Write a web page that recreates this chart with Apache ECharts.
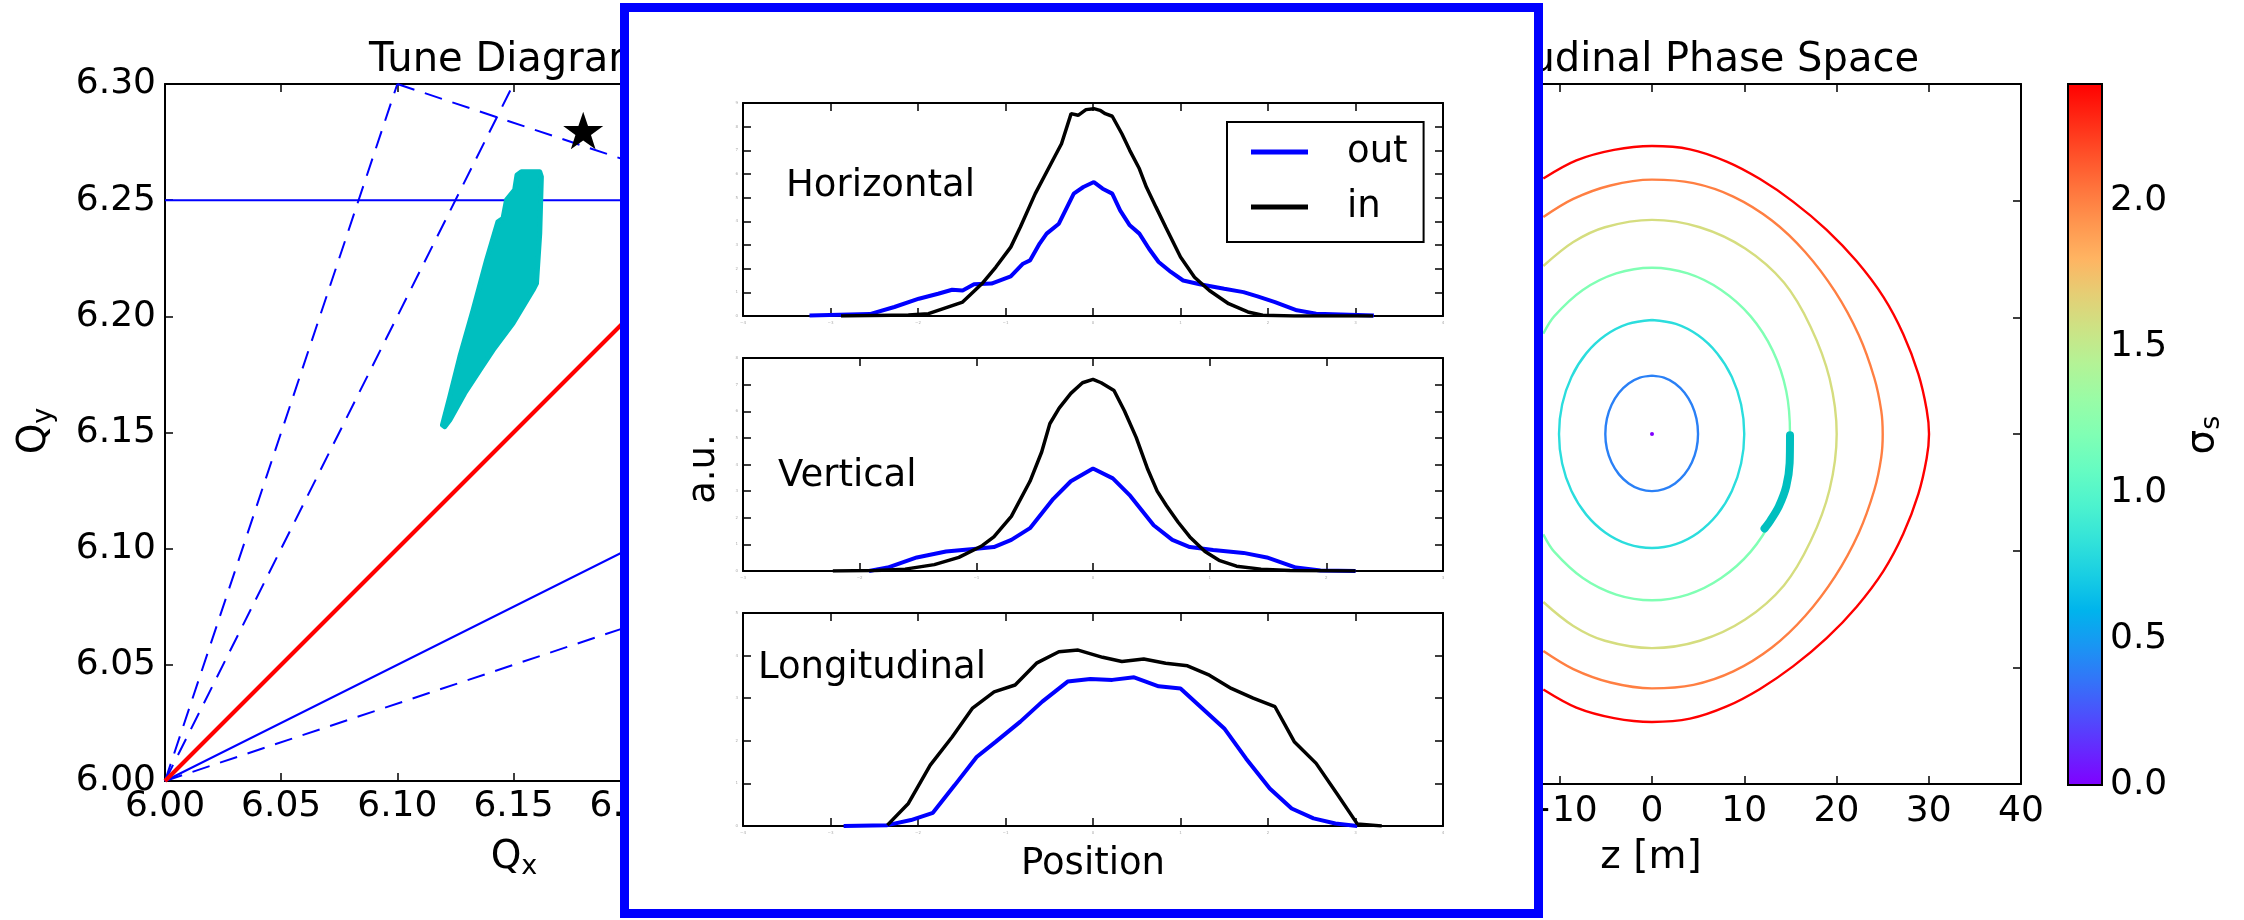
<!DOCTYPE html>
<html>
<head>
<meta charset="utf-8">
<script src="https://cdn.jsdelivr.net/npm/echarts@6/dist/echarts.min.js"></script>
<style>
html,body{margin:0;padding:0;background:#ffffff;}
#chart{width:2244px;height:920px;}
</style>
</head>
<body>
<div id="chart"></div>
<script>
// ================= DATA =================
// --- Tune diagram (Qx, Qy) ---
const tuneMin = 6.00, tuneMax = 6.30, tuneStep = 0.05;
const resonanceSolid = [
  [[6.00, 6.25], [6.30, 6.25]],
  [[6.00, 6.00], [6.30, 6.15]]
];
const resonanceDashed = [
  [[6.00, 6.00], [6.30, 6.10]],
  [[6.00, 6.00], [6.10, 6.30]],
  [[6.00, 6.00], [6.15, 6.30]],
  [[6.10, 6.30], [6.30, 6.2333]]
];
const couplingLine = [[6.00, 6.00], [6.30, 6.30]];
const workingPoint = [[6.18, 6.28]];
const footprint = [
  [6.1194, 6.1532], [6.1226, 6.1654], [6.1269, 6.1826], [6.1326, 6.2027], [6.1384, 6.2242],
  [6.1433, 6.2407], [6.1455, 6.2422], [6.1470, 6.2501], [6.1505, 6.2544], [6.1515, 6.2608],
  [6.1534, 6.2622], [6.1613, 6.2622], [6.1620, 6.2601], [6.1613, 6.2357], [6.1599, 6.2142],
  [6.1584, 6.2113], [6.1498, 6.1970], [6.1412, 6.1855], [6.1355, 6.1769], [6.1290, 6.1669],
  [6.1226, 6.1554], [6.1204, 6.1525]
];

// --- Longitudinal phase space (z [m], delta) ---
const zMin = -40, zMax = 40, zStep = 10;
const dMin = -3, dMax = 3, dStep = 1;
const sigmaLevels = [0.4, 0.8, 1.2, 1.6, 2.0, 2.4];
const ringS04 = [[0,0.50],[1.29,0.483],[2.5,0.433],[3.53,0.353],[4.32,0.25],[4.82,0.13],[4.99,0],
  [4.82,-0.127],[4.32,-0.245],[3.53,-0.346],[2.5,-0.424],[1.29,-0.473],[0,-0.49],[-1.31,-0.473],
  [-2.53,-0.424],[-3.58,-0.346],[-4.38,-0.245],[-4.89,-0.127],[-5.06,0],[-4.89,0.13],[-4.38,0.25],
  [-3.58,0.353],[-2.53,0.433],[-1.31,0.483],[0,0.50]];
const ringS08 = [[0,0.977],[2.59,0.944],[5.0,0.846],[7.07,0.691],[8.66,0.489],[9.66,0.253],[10.0,0],
  [9.66,-0.253],[8.66,-0.489],[7.07,-0.691],[5.0,-0.846],[2.59,-0.944],[0,-0.977],[-2.61,-0.944],
  [-5.04,-0.846],[-7.13,-0.691],[-8.73,-0.489],[-9.74,-0.253],[-10.08,0],[-9.74,0.253],[-8.73,0.489],
  [-7.13,0.691],[-5.04,0.846],[-2.61,0.944],[0,0.977]];
const ringS12 = [[-11.78,0.86],[-10.61,1.008],[-7.5,1.234],[-3.88,1.376],[0,1.425],[3.88,1.376],[7.5,1.234],
  [10.7,1.008],[13.1,0.7125],[14.55,0.369],[14.96,0],[14.55,-0.369],[13.1,-0.7125],[10.7,-1.008],
  [7.5,-1.234],[3.88,-1.376],[0,-1.425],[-3.88,-1.376],[-7.5,-1.234],[-10.61,-1.008],[-11.78,-0.86]];
const ringS16 = [[-11.78,1.44],[-8.53,1.645],[-5.1,1.772],[0,1.835],[5.18,1.772],[10.1,1.59],[14.3,1.298],
  [17.2,0.918],[19.25,0.475],[20.02,0],[19.25,-0.475],[17.2,-0.918],[14.3,-1.298],[10.1,-1.59],
  [5.18,-1.772],[0,-1.835],[-5.1,-1.772],[-8.53,-1.645],[-11.78,-1.44]];
const ringS20 = [[-11.78,1.86],[-8.53,2.015],[-4.5,2.13],[0,2.18],[4.5,2.15],[8.81,2.035],[13.0,1.83],
  [16.6,1.56],[19.85,1.22],[22.4,0.85],[24.1,0.48],[24.85,0.2],[25.01,0],[24.85,-0.2],[24.1,-0.48],
  [22.4,-0.85],[19.85,-1.22],[16.6,-1.56],[13.0,-1.83],[8.81,-2.035],[4.5,-2.15],[0,-2.18],[-4.5,-2.13],
  [-8.53,-2.015],[-11.78,-1.86]];
const ringS24 = [[-11.78,2.19],[-8.2,2.345],[-4.12,2.435],[0,2.468],[4.12,2.44],[8.09,2.335],[11.71,2.185],
  [15.32,1.99],[18.93,1.75],[22.19,1.48],[25.08,1.175],[27.24,0.855],[28.87,0.515],[29.77,0.21],[30.03,0],
  [29.77,-0.21],[28.87,-0.515],[27.24,-0.855],[25.08,-1.175],[22.19,-1.48],[18.93,-1.75],[15.32,-1.99],
  [11.71,-2.185],[8.09,-2.335],[4.12,-2.44],[0,-2.468],[-4.12,-2.435],[-8.2,-2.345],[-11.78,-2.19]];
const bunchCentre = [[0, 0]];
const bunchArc = [[14.96,-0.01],[14.92,-0.25],[14.55,-0.45],[13.75,-0.62],[12.85,-0.74],[12.2,-0.81]];

// --- Colour bar (sigma_s) ---
const cbarMin = 0, cbarMax = 2.4, cbarStep = 0.5;

// --- Inset profiles (Position, a.u.) ---
const hOut = [[-3.24,0.02],[-2.55,0.08],[-2.27,0.38],[-1.99,0.73],[-1.77,0.94],[-1.61,1.11],[-1.49,1.08],
  [-1.36,1.34],[-1.16,1.37],[-0.94,1.67],[-0.80,2.21],[-0.72,2.35],[-0.61,3.06],[-0.53,3.48],[-0.39,3.90],
  [-0.22,5.17],[-0.11,5.45],[0.01,5.66],[0.11,5.38],[0.22,5.17],[0.31,4.46],[0.42,3.83],[0.53,3.48],
  [0.64,2.84],[0.75,2.28],[0.89,1.86],[1.03,1.50],[1.22,1.34],[1.50,1.15],[1.72,1.01],[1.88,0.83],
  [2.08,0.59],[2.33,0.24],[2.55,0.10],[3.21,0.02]];
const hIn = [[-2.88,0],[-2.11,0.04],[-1.88,0.10],[-1.49,0.59],[-1.27,1.36],[-1.11,2.07],[-0.94,2.91],
  [-0.83,3.76],[-0.66,5.17],[-0.44,6.72],[-0.36,7.28],[-0.25,8.55],[-0.17,8.48],[-0.08,8.72],[0.01,8.76],
  [0.08,8.69],[0.14,8.55],[0.22,8.44],[0.33,7.70],[0.42,7.00],[0.53,6.22],[0.61,5.45],[0.72,4.60],
  [0.83,3.76],[1.00,2.49],[1.16,1.64],[1.33,1.08],[1.55,0.52],[1.77,0.17],[1.94,0.03],[2.30,0],[3.20,0]];
const vOut = [[-1.92,0],[-1.76,0.13],[-1.51,0.51],[-1.26,0.73],[-1.00,0.84],[-0.85,0.90],[-0.70,1.17],
  [-0.54,1.61],[-0.34,2.71],[-0.19,3.37],[0,3.85],[0.17,3.48],[0.32,2.82],[0.52,1.72],[0.68,1.17],
  [0.83,0.90],[1.03,0.79],[1.29,0.68],[1.49,0.51],[1.74,0.13],[1.95,0.02],[2.25,0]];
const vIn = [[-2.23,0],[-1.86,0.02],[-1.61,0.07],[-1.36,0.24],[-1.15,0.51],[-0.95,0.95],[-0.85,1.28],
  [-0.70,2.05],[-0.54,3.37],[-0.44,4.47],[-0.37,5.53],[-0.29,6.12],[-0.19,6.67],[-0.09,7.07],[0,7.20],
  [0.07,7.07],[0.18,6.78],[0.27,6.01],[0.37,5.02],[0.47,3.81],[0.55,3.0],[0.63,2.45],[0.73,1.83],
  [0.83,1.28],[0.96,0.73],[1.08,0.40],[1.23,0.18],[1.44,0.07],[1.69,0.02],[2.25,0]];
const lOut = [[-2.85,0],[-2.35,0.02],[-2.08,0.14],[-1.83,0.31],[-1.58,0.96],[-1.33,1.62],[-1.11,1.98],
  [-0.83,2.45],[-0.58,2.92],[-0.29,3.39],[-0.03,3.45],[0.22,3.43],[0.47,3.49],[0.75,3.28],[1.00,3.23],
  [1.25,2.76],[1.50,2.29],[1.75,1.58],[2.02,0.88],[2.27,0.41],[2.52,0.18],[2.77,0.06],[3.02,0]];
const lIn = [[-2.35,0.02],[-2.11,0.53],[-1.86,1.43],[-1.61,2.09],[-1.38,2.76],[-1.13,3.15],[-0.89,3.31],
  [-0.64,3.83],[-0.39,4.09],[-0.17,4.13],[0.11,3.96],[0.33,3.86],[0.58,3.92],[0.83,3.82],[1.08,3.76],
  [1.33,3.54],[1.58,3.23],[1.83,3.00],[2.08,2.80],[2.30,1.98],[2.55,1.47],[2.80,0.72],[3.02,0.05],[3.30,0]];
const panelX = [[-4, 4], [-3, 3], [-4, 4]];
const panelY = [[0, 9], [0, 8], [0, 5]];
const panelNames = ['Horizontal', 'Vertical', 'Longitudinal'];

// ================= STYLE / HELPERS =================
const FONT = '"DejaVu Sans", "Liberation Sans", sans-serif';
const BLACK = '#000000';
const BLUE = '#0000ff';
const CYAN = '#00bfbf';
const MINUS = '\u2212';
function rainbow(t) {
  const r = Math.min(1, Math.abs(2 * t - 0.5));
  const g = Math.sin(Math.PI * t);
  const b = Math.cos(Math.PI * t / 2);
  return 'rgb(' + Math.round(r * 255) + ',' + Math.round(Math.max(0, g) * 255) + ',' + Math.round(Math.max(0, b) * 255) + ')';
}
function axisBase(extra) {
  return Object.assign({
    type: 'value',
    axisLine: { show: true, onZero: false, lineStyle: { color: BLACK, width: 2 } },
    axisTick: { show: true, inside: true, length: 8, lineStyle: { color: BLACK, width: 1.5 } },
    axisLabel: { show: false },
    splitLine: { show: false },
    z: 0
  }, extra);
}
const tickFont = { show: true, fontSize: 36, fontFamily: FONT, color: BLACK };
const tinyLabel = { show: true, fontSize: 4, color: '#aaaaaa', margin: 5, fontFamily: FONT };
const intLabel = v => (v < 0 ? MINUS : '') + String(Math.abs(Math.round(v)));

// ================= AXES =================
const xAxis = [
  axisBase({ gridIndex: 0, position: 'bottom', min: tuneMin, max: tuneMax, interval: tuneStep,
    axisLabel: Object.assign({}, tickFont, { margin: 8, formatter: v => v.toFixed(2) }) }),
  axisBase({ gridIndex: 0, position: 'top', min: tuneMin, max: tuneMax, interval: tuneStep }),
  axisBase({ gridIndex: 1, position: 'bottom', min: zMin, max: zMax, interval: zStep,
    axisLabel: Object.assign({}, tickFont, { margin: 10, formatter: intLabel }) }),
  axisBase({ gridIndex: 1, position: 'top', min: zMin, max: zMax, interval: zStep }),
  { type: 'value', gridIndex: 2, min: 0, max: 1, show: false }
];
const yAxis = [
  axisBase({ gridIndex: 0, position: 'left', min: tuneMin, max: tuneMax, interval: tuneStep,
    axisLabel: Object.assign({}, tickFont, { margin: 9, formatter: v => v.toFixed(2) }) }),
  axisBase({ gridIndex: 0, position: 'right', min: tuneMin, max: tuneMax, interval: tuneStep }),
  axisBase({ gridIndex: 1, position: 'left', min: dMin, max: dMax, interval: dStep }),
  axisBase({ gridIndex: 1, position: 'right', min: dMin, max: dMax, interval: dStep }),
  axisBase({ gridIndex: 2, position: 'right', min: cbarMin, max: cbarMax, interval: cbarStep,
    axisTick: { show: true, inside: true, length: 9, lineStyle: { color: BLACK, width: 1.5 } },
    axisLabel: Object.assign({}, tickFont, { margin: 8,
      formatter: v => (Math.abs(v / cbarStep - Math.round(v / cbarStep)) < 1e-6 ? v.toFixed(1) : '') }) })
];
for (let k = 0; k < 3; k++) {
  const g = 3 + k;
  xAxis.push(axisBase({ gridIndex: g, position: 'bottom', min: panelX[k][0], max: panelX[k][1], interval: 1, z: 60,
    axisLabel: Object.assign({}, tinyLabel, { formatter: intLabel }) }));
  xAxis.push(axisBase({ gridIndex: g, position: 'top', min: panelX[k][0], max: panelX[k][1], interval: 1, z: 60 }));
  yAxis.push(axisBase({ gridIndex: g, position: 'left', min: panelY[k][0], max: panelY[k][1], interval: 1, z: 60, axisLabel: tinyLabel }));
  yAxis.push(axisBase({ gridIndex: g, position: 'right', min: panelY[k][0], max: panelY[k][1], interval: 1, z: 60 }));
}

// ================= SERIES =================
const series = [];
resonanceSolid.forEach(d => series.push({ type: 'line', xAxisIndex: 0, yAxisIndex: 0, data: d, symbol: 'none',
  silent: true, lineStyle: { color: BLUE, width: 2 }, z: 2 }));
resonanceDashed.forEach(d => series.push({ type: 'line', xAxisIndex: 0, yAxisIndex: 0, data: d, symbol: 'none',
  silent: true, lineStyle: { color: BLUE, width: 2, type: [18, 11] }, z: 2 }));
series.push({ type: 'line', xAxisIndex: 0, yAxisIndex: 0, data: couplingLine, symbol: 'none', silent: true,
  lineStyle: { color: '#ff0000', width: 4 }, z: 3 });
series.push({ type: 'custom', xAxisIndex: 0, yAxisIndex: 0, data: [footprint[0]], silent: true, z: 4,
  renderItem: (params, api) => ({
    type: 'polygon',
    shape: { points: footprint.map(p => api.coord(p)) },
    style: { fill: CYAN, stroke: CYAN, lineWidth: 5, lineJoin: 'round' }
  }) });
series.push({ type: 'scatter', xAxisIndex: 0, yAxisIndex: 0, data: workingPoint, silent: true, z: 5,
  symbol: 'path://M50,0 L61.8,35.1 L98.9,35.1 L69,56.9 L80.2,91.9 L50,70.2 L19.8,91.9 L31,56.9 L1.1,35.1 L38.2,35.1 Z',
  symbolSize: 40, symbolKeepAspect: true, itemStyle: { color: BLACK, opacity: 1 } });

const rings = [ringS04, ringS08, ringS12, ringS16, ringS20, ringS24];
rings.forEach((pts, i) => series.push({ type: 'line', xAxisIndex: 2, yAxisIndex: 2, data: pts, symbol: 'none',
  smooth: 0.33, silent: true, lineStyle: { color: rainbow(sigmaLevels[i] / cbarMax), width: 2.4 }, z: 3 }));
series.push({ type: 'scatter', xAxisIndex: 2, yAxisIndex: 2, data: bunchCentre, symbolSize: 4, silent: true,
  itemStyle: { color: rainbow(0), opacity: 1 }, z: 4 });
series.push({ type: 'line', xAxisIndex: 2, yAxisIndex: 2, data: bunchArc, symbol: 'none', smooth: 0.3, silent: true,
  lineStyle: { color: CYAN, width: 8, cap: 'round', join: 'round' }, z: 5 });

const cbarStops = [];
for (let i = 0; i <= 20; i++) cbarStops.push({ offset: i / 20, color: rainbow(i / 20) });
series.push({ type: 'custom', xAxisIndex: 4, yAxisIndex: 4, data: [[0, cbarMin]], silent: true, z: 2,
  renderItem: (params, api) => {
    const a = api.coord([0, cbarMin]), b = api.coord([1, cbarMax]);
    return { type: 'rect', shape: { x: a[0], y: b[1], width: b[0] - a[0], height: a[1] - b[1] },
      style: { fill: new echarts.graphic.LinearGradient(0, 1, 0, 0, cbarStops), stroke: BLACK, lineWidth: 2 } };
  } });

const profiles = [[hOut, hIn], [vOut, vIn], [lOut, lIn]];
profiles.forEach((pair, k) => {
  series.push({ type: 'line', name: 'out', xAxisIndex: 5 + 2 * k, yAxisIndex: 5 + 2 * k, data: pair[0], symbol: 'none',
    silent: true, lineStyle: { color: BLUE, width: 4 }, itemStyle: { color: BLUE }, z: 61 });
  series.push({ type: 'line', name: 'in', xAxisIndex: 5 + 2 * k, yAxisIndex: 5 + 2 * k, data: pair[1], symbol: 'none',
    silent: true, lineStyle: { color: BLACK, width: 3.5 }, itemStyle: { color: BLACK }, z: 61 });
});

// ================= TEXT / DECORATION =================
function txt(text, x, y, size, align, extra) {
  return Object.assign({ type: 'text', x: x, y: y, z: 1,
    style: { text: text, font: size + 'px ' + FONT, fill: BLACK, align: align || 'left', verticalAlign: 'middle' } }, extra || {});
}
function subTxt(main, sub, x, y, size, rot) {
  return { type: 'text', x: x, y: y, z: 1, rotation: rot || 0,
    style: { text: '{a|' + main + '}{b|' + sub + '}', align: 'center', verticalAlign: 'middle', fill: BLACK,
      rich: { a: { fontSize: size, fontFamily: FONT, lineHeight: size + 6, fill: BLACK },
              b: { fontSize: Math.round(size * 0.7), fontFamily: FONT, lineHeight: 26, verticalAlign: 'bottom', fill: BLACK } } } };
}
const graphic = [
  txt('Tune Diagram', 369, 61, 40, 'left'),
  txt('Longitudinal Phase Space', 1919, 61, 40, 'right'),
  subTxt('Q', 'x', 514, 858, 39, 0),
  subTxt('Q', 'y', 35, 431, 39, Math.PI / 2),
  txt('z [m]', 1651, 858, 39, 'center'),
  subTxt('σ', 's', 2203, 435, 39, Math.PI / 2),
  { type: 'rect', z: 50, shape: { x: 624.5, y: 7.5, width: 914, height: 906 },
    style: { fill: '#ffffff', stroke: BLUE, lineWidth: 9 } },
  txt(panelNames[0], 786, 186, 37, 'left', { z: 100 }),
  txt(panelNames[1], 778, 476, 37, 'left', { z: 100 }),
  txt(panelNames[2], 758, 668, 37, 'left', { z: 100 }),
  txt('a.u.', 704, 469, 37, 'center', { z: 100, rotation: Math.PI / 2 }),
  txt('Position', 1093, 864, 37, 'center', { z: 100 })
];

const option = {
  animation: false,
  backgroundColor: '#ffffff',
  grid: [
    { left: 165, top: 84, width: 697, height: 697, outerBoundsMode: 'none' },
    { left: 1283, top: 84, width: 738, height: 700, outerBoundsMode: 'none' },
    { left: 2068, top: 84, width: 34, height: 701, outerBoundsMode: 'none' },
    { left: 743, top: 103, width: 700, height: 213, outerBoundsMode: 'none', z: 60 },
    { left: 743, top: 358, width: 700, height: 213, outerBoundsMode: 'none', z: 60 },
    { left: 743, top: 613, width: 700, height: 213, outerBoundsMode: 'none', z: 60 }
  ],
  legend: {
    show: true, orient: 'vertical', left: 1227, top: 122, z: 70, selectedMode: false,
    data: [{ name: 'out', icon: 'rect' }, { name: 'in', icon: 'rect' }],
    itemWidth: 57, itemHeight: 5, itemGap: 13,
    padding: [9, 16, 14, 24],
    borderColor: BLACK, borderWidth: 2, borderRadius: 0, backgroundColor: '#ffffff',
    textStyle: { fontSize: 37, fontFamily: FONT, color: BLACK, lineHeight: 42, padding: [0, 0, 0, 34] }
  },
  xAxis: xAxis,
  yAxis: yAxis,
  series: series,
  graphic: graphic
};
const chart = echarts.init(document.getElementById('chart'), null, { renderer: 'canvas', width: 2244, height: 920 });
chart.setOption(option);
</script>
</body>
</html>
